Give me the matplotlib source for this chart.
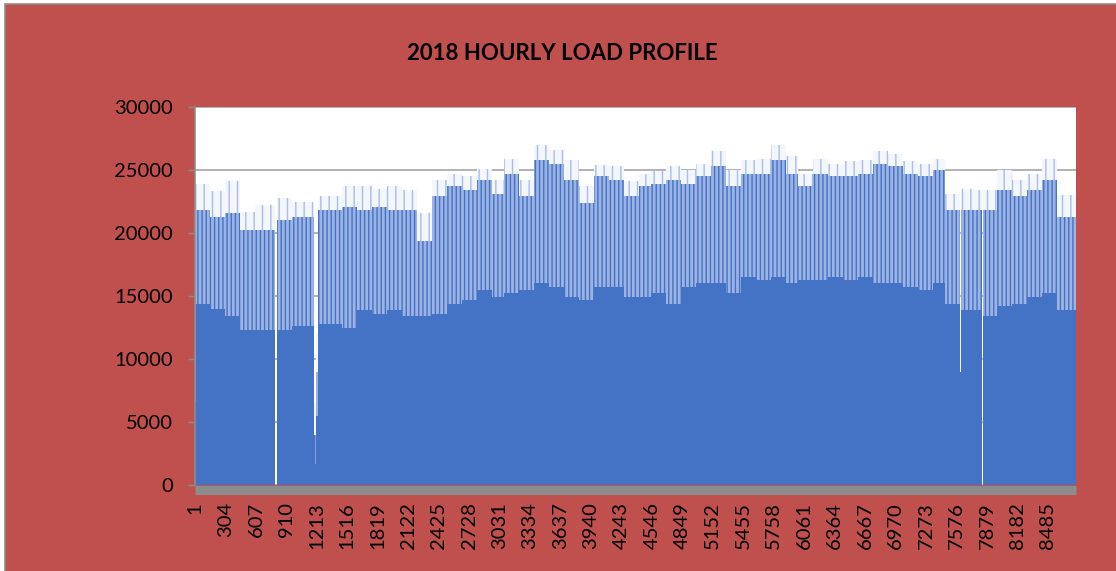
import numpy as np
import matplotlib
matplotlib.use("Agg")
import matplotlib.pyplot as plt
from matplotlib.patches import Rectangle

plt.rcParams['font.family'] = ['Lato', 'DejaVu Sans']
plt.rcParams['hatch.linewidth'] = 1.0

# hourly load, read off the picture as blocks of hours:
# block edges (hour number), top of solid load (night trough),
# typical daily high, and the highest peak in the block (MW)
edges = [0, 8, 150, 300, 450, 600, 796, 812, 963, 1180, 1200, 1228,
         1463, 1613, 1762, 1912, 2061, 2210, 2359, 2508, 2658, 2807,
         2957, 3076, 3226, 3375, 3524, 3674, 3823, 3972, 4121, 4271,
         4420, 4539, 4689, 4838, 4987, 5137, 5286, 5435, 5585, 5734,
         5883, 6003, 6152, 6301, 6451, 6600, 6749, 6899, 7048, 7197,
         7347, 7466, 7615, 7623, 7765, 7832, 7842, 7981, 8130, 8280,
         8429, 8578, 8760]
trough = [6600, 14400, 14000, 13400, 12300, 12300, 0, 12300, 12600, 1700, 5500,
          12800, 12500, 13900, 13600, 13900, 13400, 13400, 13600, 14400, 14700,
          15500, 14900, 15200, 15500, 16000, 15700, 14900, 14700, 15700, 15700,
          14900, 14900, 15200, 14400, 15700, 16000, 16000, 15200, 16500, 16300,
          16500, 16000, 16300, 16300, 16500, 16300, 16500, 16000, 16000, 15700,
          15500, 16000, 14400, 4000, 13900, 13900, 0, 13400, 14200, 14400,
          14900, 15200, 13900]
daily_high = [15000, 21800, 21300, 21600, 20200, 20200, 0, 21000, 21300, 4000, 9000,
              21800, 22100, 21800, 22100, 21800, 21800, 19400, 22900, 23700, 23400,
              24200, 23100, 24700, 22900, 25800, 25500, 24200, 22400, 24500, 24200,
              22900, 23700, 23900, 24200, 23900, 24500, 25300, 23700, 24700, 24700,
              25800, 24700, 23700, 24700, 24500, 24500, 24700, 25500, 25300, 24700,
              24500, 25000, 21800, 9000, 21800, 21800, 0, 21800, 23400, 22900,
              23400, 24200, 21300]
peak = [20000, 23900, 23300, 24100, 21700, 22200, 0, 22800, 22500, 6500, 12000,
        22900, 23700, 23700, 23500, 23700, 23400, 21600, 24200, 24700, 24500,
        25100, 24200, 25900, 24200, 27000, 26600, 25800, 23700, 25400, 25300,
        24100, 24700, 24900, 25300, 25000, 25500, 26500, 25000, 25800, 25900,
        27000, 26100, 24700, 25900, 25500, 25700, 25800, 26500, 26300, 25700,
        25500, 25900, 23100, 14000, 23500, 23400, 0, 23400, 25000, 24200,
        24700, 25900, 23000]

tick_hours = list(range(1, 8761, 303))
tick_labels = [str(h) for h in tick_hours]
y_ticks = [0, 5000, 10000, 15000, 20000, 25000, 30000]

BLUE = '#4472C4'
RED = '#C0504D'
GRAY = '#8C8C8C'

x_edges = np.array(edges) + 0.5

fig = plt.figure(figsize=(11.16, 5.71), dpi=100, facecolor='white')
fig.patches.append(Rectangle((5 / 1116, -0.02), 1.1, (567 / 571) + 0.02,
                             transform=fig.transFigure, facecolor=RED,
                             edgecolor=GRAY, linewidth=1.2, zorder=-1))

ax = fig.add_axes([195 / 1116, 86 / 571, 880.5 / 1116, 378 / 571])
ax.set_facecolor('white')

# spines first: moving a spine resets the ticks
for s in ['top', 'right']:
    ax.spines[s].set_visible(False)
ax.spines['bottom'].set_position(('outward', 3.25))
ax.spines['bottom'].set_color(GRAY)
ax.spines['bottom'].set_linewidth(6.5)
ax.spines['bottom'].set_capstyle('butt')
ax.spines['bottom'].set_zorder(4)
ax.spines['left'].set_color(GRAY)
ax.spines['left'].set_linewidth(1.2)
ax.spines['left'].set_zorder(4)

ax.stairs(trough, x_edges, baseline=0, fill=True, color=BLUE, zorder=3)
ax.stairs(daily_high, x_edges, baseline=trough, fill=True, facecolor='#9cb3e3',
          edgecolor=BLUE, hatch='||||', linewidth=0, zorder=2)
ax.stairs(peak, x_edges, baseline=daily_high, fill=True, facecolor='#f3f6fc',
          edgecolor='#a9bde6', hatch='||', linewidth=0, zorder=2)

ax.set_xlim(0.5, 8760.5)
ax.set_ylim(0, 30000)
ax.set_yticks(y_ticks)
ax.set_yticklabels([str(v) for v in y_ticks], fontsize=14.5)
ax.set_xticks(tick_hours)
ax.set_xticklabels(tick_labels, rotation=90, fontsize=14.5)

ax.grid(axis='y', color='#A6A6A6', linewidth=1.2)
ax.set_axisbelow(True)

ax.tick_params(axis='y', length=5, width=1, color=GRAY, pad=11)
ax.tick_params(axis='x', length=0, pad=9)

fig.text(562 / 1116, 1 - 54 / 571, '2018 HOURLY LOAD PROFILE', ha='center',
         va='center', fontsize=16, fontweight='bold')

fig.savefig('out.png', dpi=100, facecolor=fig.get_facecolor())
